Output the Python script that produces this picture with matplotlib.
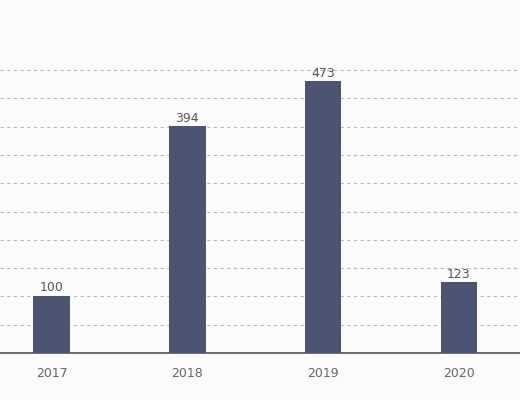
import matplotlib.pyplot as plt

years = ["2017", "2018", "2019", "2020"]
values = [100, 394, 473, 123]
# the dashed guides are evenly spaced, not on round values
grid_levels = [49.2 * k for k in range(1, 11)]

fig = plt.figure(figsize=(5.2, 4.0), dpi=100)
ax = fig.add_axes([0, 0.1175, 1, 0.8825])

x = range(len(years))
bars = ax.bar(x, values, width=0.27, color="#4b5571", zorder=3)
for g in grid_levels:
    ax.axhline(g, color="#b8b8b8", linestyle=(0, (3, 3)), linewidth=0.8, zorder=1)
for b, v in zip(bars, values):
    ax.text(b.get_x() + b.get_width() / 2, v + 2, str(v), ha="center", va="bottom",
            fontsize=9, color="#555555", zorder=4)

ax.set_xlim(-0.38, 3.45)
ax.set_ylim(0, 614)
ax.set_yticks([])
ax.set_xticks(list(x))
ax.set_xticklabels(years, fontsize=9, color="#666666")
ax.tick_params(axis="x", length=0, pad=10)
for s in ["top", "right", "left"]:
    ax.spines[s].set_visible(False)
ax.spines["bottom"].set_color("#555555")
ax.spines["bottom"].set_linewidth(1.2)
fig.patch.set_facecolor("#fbfbfb")
ax.set_facecolor("#fbfbfb")

fig.savefig("out.png", dpi=100)
